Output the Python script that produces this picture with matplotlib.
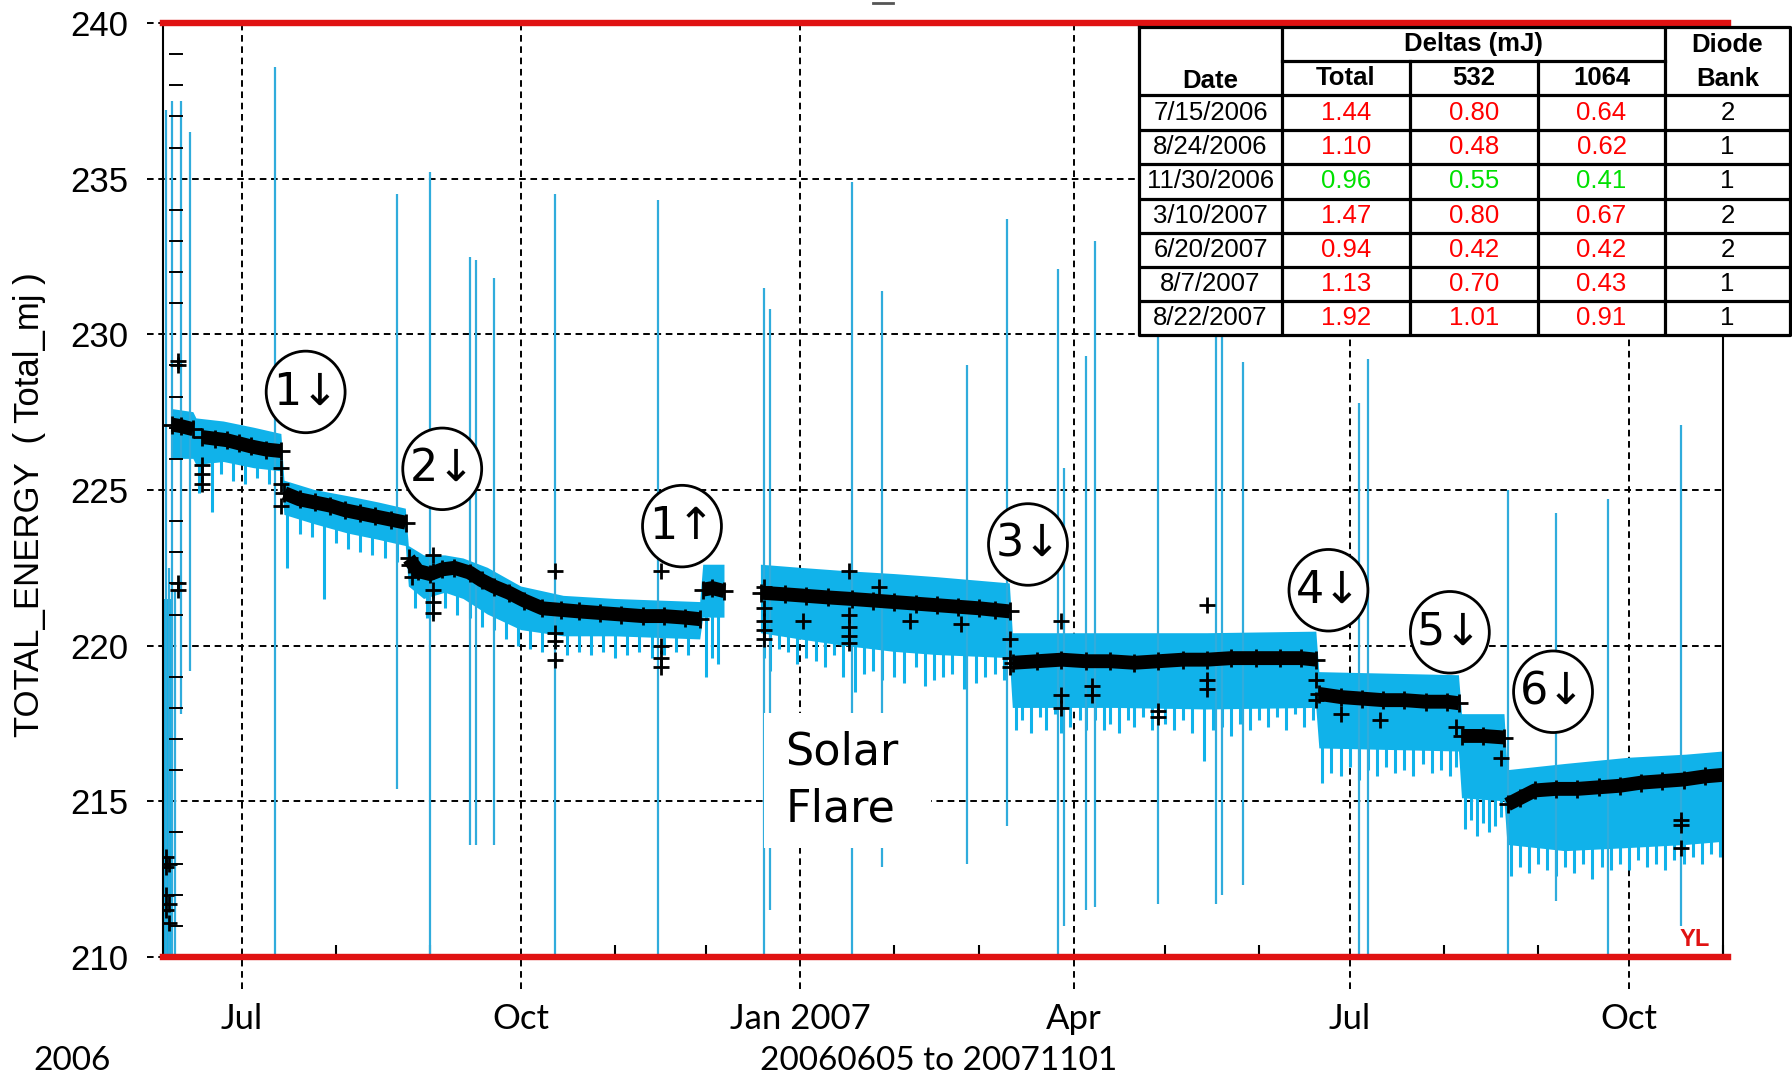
import numpy as np
import pandas as pd
import matplotlib
matplotlib.use("Agg")
import matplotlib.pyplot as plt
import matplotlib.dates as mdates
from matplotlib.patches import Ellipse, Rectangle
from matplotlib.lines import Line2D
from matplotlib.ticker import FuncFormatter

# ---------------------------------------------------------------- data
# Daily mean of TOTAL_ENERGY (black trace); None breaks the trace
trend_dates = [
    "2006-06-08", "2006-06-11", "2006-06-15", "2006-06-15",
    "2006-06-18", "2006-06-22", "2006-06-26", "2006-06-30", "2006-07-04", "2006-07-09", "2006-07-14", "2006-07-14",
    "2006-07-15", "2006-07-20", "2006-07-25", "2006-07-30", "2006-08-04", "2006-08-09", "2006-08-14",
    "2006-08-19", "2006-08-24", "2006-08-24",
    "2006-08-25", "2006-08-28", "2006-09-01", "2006-09-05", "2006-09-09", "2006-09-14", "2006-09-18",
    "2006-09-22", "2006-09-27", "2006-10-02", "2006-10-08", "2006-10-14", "2006-10-20", "2006-10-27",
    "2006-11-03", "2006-11-10", "2006-11-17", "2006-11-24", "2006-11-29", "2006-11-29",
    "2006-11-30", "2006-12-03", "2006-12-07", "2006-12-07",
    "2006-12-19", "2006-12-27", "2007-01-03", "2007-01-10", "2007-01-18", "2007-01-25", "2007-02-01",
    "2007-02-08", "2007-02-15", "2007-02-22", "2007-03-01", "2007-03-06", "2007-03-11", "2007-03-11",
    "2007-03-12", "2007-03-20", "2007-03-28", "2007-04-05", "2007-04-13", "2007-04-21", "2007-04-29",
    "2007-05-07", "2007-05-15", "2007-05-23", "2007-05-31", "2007-06-08", "2007-06-15", "2007-06-20", "2007-06-20",
    "2007-06-21", "2007-06-28", "2007-07-05", "2007-07-12", "2007-07-19", "2007-07-26", "2007-08-02",
    "2007-08-06", "2007-08-06",
    "2007-08-07", "2007-08-14", "2007-08-21", "2007-08-21",
    "2007-08-22", "2007-08-26", "2007-08-31", "2007-09-07", "2007-09-14", "2007-09-21", "2007-09-28",
    "2007-10-05", "2007-10-12", "2007-10-19", "2007-10-26", "2007-11-01"]
trend_mj = [
    227.1, 227.05, 226.95, None,
    226.7, 226.65, 226.6, 226.5, 226.4, 226.3, 226.25, None,
    224.9, 224.7, 224.6, 224.5, 224.35, 224.25, 224.15,
    224.05, 223.95, None,
    222.8, 222.4, 222.3, 222.45, 222.5, 222.35, 222.1,
    221.9, 221.7, 221.45, 221.2, 221.15, 221.1, 221.05,
    221.0, 220.95, 220.95, 220.9, 220.85, None,
    221.8, 221.85, 221.75, None,
    221.7, 221.65, 221.6, 221.55, 221.5, 221.45, 221.4,
    221.35, 221.3, 221.25, 221.2, 221.15, 221.1, None,
    219.45, 219.5, 219.55, 219.5, 219.5, 219.45, 219.5,
    219.55, 219.55, 219.6, 219.6, 219.6, 219.6, 219.55, None,
    218.45, 218.35, 218.3, 218.25, 218.25, 218.2, 218.2,
    218.15, None,
    217.1, 217.1, 217.05, None,
    214.9, 215.1, 215.35, 215.4, 215.4, 215.45, 215.5,
    215.6, 215.65, 215.7, 215.8, 215.85]

# Spread of the individual shots (cyan band)
band_dates = ["2006-06-05", "2006-06-08", "2006-06-08",
              "2006-06-08", "2006-06-15", "2006-06-16", "2006-06-25", "2006-07-05", "2006-07-14",
              "2006-07-15", "2006-07-25", "2006-08-05", "2006-08-15", "2006-08-24",
              "2006-08-25", "2006-08-30", "2006-09-06", "2006-09-12", "2006-09-20", "2006-10-01",
              "2006-10-15", "2006-11-01", "2006-11-29",
              "2006-11-30", "2006-12-07", "2006-12-07",
              "2006-12-19", "2007-01-01", "2007-01-15", "2007-02-01", "2007-02-15", "2007-03-11",
              "2007-03-12", "2007-04-15", "2007-05-15", "2007-06-20",
              "2007-06-21", "2007-08-06",
              "2007-08-07", "2007-08-21",
              "2007-08-22", "2007-09-10", "2007-10-01", "2007-10-20", "2007-11-01"]
band_hi = [221.5, 221.5, None,
           227.6, 227.5, 227.3, 227.2, 227.0, 226.8,
           225.3, 225.0, 224.8, 224.6, 224.4,
           223.2, 222.9, 222.9, 222.8, 222.5, 221.9,
           221.6, 221.5, 221.4,
           222.6, 222.6, None,
           222.6, 222.5, 222.4, 222.3, 222.2, 222.0,
           220.4, 220.4, 220.4, 220.45,
           219.15, 219.05,
           217.8, 217.8,
           216.0, 216.2, 216.4, 216.5, 216.6]
band_lo = [210.0, 210.0, None,
           226.0, 226.0, 225.8, 225.9, 225.7, 225.6,
           224.2, 223.9, 223.6, 223.4, 223.2,
           221.9, 221.5, 221.7, 221.5, 221.0, 220.5,
           220.3, 220.3, 220.2,
           220.9, 220.9, None,
           220.4, 220.2, 220.0, 219.8, 219.7, 219.6,
           218.0, 218.0, 217.95, 218.0,
           216.7, 216.6,
           215.1, 215.0,
           213.6, 213.4, 213.5, 213.6, 213.7]

# Single-shot excursions (long cyan spikes)
spike_dates = ["2006-06-06", "2006-06-07", "2006-06-08", "2006-06-09", "2006-06-11", "2006-06-14",
               "2006-07-12", "2006-08-21", "2006-09-01", "2006-09-14", "2006-09-16", "2006-09-22",
               "2006-10-12", "2006-11-15", "2006-12-20", "2006-12-22", "2007-01-18",
               "2007-01-28", "2007-02-25", "2007-03-10", "2007-03-27", "2007-03-29",
               "2007-04-05", "2007-04-08", "2007-04-29", "2007-05-18", "2007-05-20",
               "2007-05-27", "2007-07-04", "2007-07-07", "2007-08-22", "2007-09-07",
               "2007-09-24", "2007-10-18"]
spike_lo = [210.0, 210.0, 210.0, 210.0, 217.8, 219.2,
            210.0, 215.4, 210.0, 213.6, 213.6, 213.6,
            210.0, 210.0, 210.0, 211.5, 210.0,
            212.9, 213.0, 214.2, 210.0, 211.0,
            211.5, 211.6, 211.7, 211.7, 212.0,
            212.3, 210.0, 210.0, 210.0, 211.8,
            210.0, 211.0]
spike_hi = [237.2, 222.5, 237.5, 221.8, 237.5, 236.5,
            238.6, 234.5, 235.2, 232.5, 232.4, 231.8,
            234.5, 234.3, 231.5, 230.8, 234.9,
            231.4, 229.0, 233.7, 232.1, 225.7,
            229.3, 233.0, 231.5, 232.0, 230.2,
            229.1, 227.8, 229.2, 225.0, 224.25,
            224.7, 227.1]

# Short downward excursions hanging off the band
dip_dates = [
    "2006-06-17", "2006-06-21", "2006-06-24", "2006-06-28", "2006-07-02", "2006-07-06", "2006-07-10",
    "2006-07-16", "2006-07-20", "2006-07-24", "2006-07-28", "2006-08-01", "2006-08-05", "2006-08-09",
    "2006-08-13", "2006-08-17", "2006-08-21",
    "2006-08-27", "2006-08-31", "2006-09-02", "2006-09-06", "2006-09-10", "2006-09-14", "2006-09-18",
    "2006-09-22", "2006-09-26", "2006-09-30", "2006-10-04", "2006-10-08", "2006-10-12", "2006-10-16",
    "2006-10-20", "2006-10-24", "2006-10-28", "2006-11-01", "2006-11-05", "2006-11-09", "2006-11-13",
    "2006-11-17", "2006-11-21", "2006-11-25",
    "2006-12-01", "2006-12-03", "2006-12-05",
    "2006-12-20", "2006-12-22", "2006-12-25", "2006-12-28", "2006-12-31", "2007-01-03", "2007-01-06",
    "2007-01-09", "2007-01-12", "2007-01-15", "2007-01-19", "2007-01-22", "2007-01-25", "2007-01-28",
    "2007-02-01", "2007-02-04", "2007-02-08", "2007-02-11", "2007-02-14", "2007-02-17", "2007-02-20",
    "2007-02-24", "2007-02-28", "2007-03-03", "2007-03-06", "2007-03-09",
    "2007-03-13", "2007-03-15", "2007-03-18", "2007-03-21", "2007-03-23", "2007-03-26", "2007-03-28",
    "2007-03-31", "2007-04-03", "2007-04-05", "2007-04-08", "2007-04-11", "2007-04-13", "2007-04-16",
    "2007-04-19", "2007-04-21", "2007-04-24", "2007-04-27", "2007-05-01", "2007-05-04", "2007-05-07",
    "2007-05-10", "2007-05-14", "2007-05-17", "2007-05-20", "2007-05-23", "2007-05-26", "2007-05-29",
    "2007-06-01", "2007-06-04", "2007-06-07", "2007-06-10", "2007-06-13", "2007-06-16", "2007-06-19",
    "2007-06-22", "2007-06-25", "2007-06-28", "2007-07-01", "2007-07-04", "2007-07-07", "2007-07-10",
    "2007-07-13", "2007-07-16", "2007-07-19", "2007-07-22", "2007-07-25", "2007-07-28", "2007-07-31",
    "2007-08-03", "2007-08-05",
    "2007-08-08", "2007-08-10", "2007-08-12", "2007-08-14", "2007-08-16", "2007-08-18", "2007-08-20",
    "2007-08-23", "2007-08-26", "2007-08-29", "2007-09-01", "2007-09-04", "2007-09-07", "2007-09-10",
    "2007-09-13", "2007-09-16", "2007-09-19", "2007-09-22", "2007-09-25", "2007-09-28", "2007-10-01",
    "2007-10-04", "2007-10-07", "2007-10-10", "2007-10-13", "2007-10-16", "2007-10-19", "2007-10-22",
    "2007-10-25", "2007-10-28", "2007-10-31"]
dip_lo = [
    224.9, 224.3, 225.5, 225.3, 225.2, 225.4, 225.2,
    222.5, 223.6, 223.5, 221.5, 223.3, 223.1, 223.0,
    222.9, 222.8, 222.7,
    221.2, 220.9, 220.9, 221.2, 221.0, 220.9, 220.6,
    220.5, 220.2, 220.0, 219.9, 219.8, 219.9, 219.7,
    219.8, 219.7, 219.8, 219.6, 219.7, 219.8, 219.6,
    219.7, 219.8, 219.7,
    219.0, 219.6, 219.4,
    219.6, 219.2, 219.9, 219.8, 219.4, 219.6, 219.5,
    219.3, 219.7, 219.0, 218.5, 219.1, 219.2, 218.9,
    219.0, 218.8, 219.3, 218.7, 218.9, 219.0, 219.1,
    218.6, 218.8, 219.0, 219.1, 218.9,
    217.3, 217.6, 217.2, 217.7, 217.3, 217.8, 217.2,
    217.4, 217.6, 217.3, 217.6, 217.3, 217.5, 217.2,
    217.6, 217.4, 217.7, 217.3, 217.5, 217.3, 217.6,
    217.2, 216.3, 217.3, 217.4, 217.1, 217.5, 217.3,
    217.6, 217.4, 217.7, 217.3, 217.8, 217.4, 217.6,
    215.6, 215.9, 215.8, 216.1, 215.7, 216.0, 215.8,
    216.1, 215.9, 216.0, 215.8, 216.2, 215.9, 216.0,
    215.8, 216.1,
    214.1, 214.4, 213.9, 214.3, 214.0, 214.2, 214.5,
    212.6, 212.9, 212.7, 213.0, 212.8, 212.6, 212.9,
    212.7, 213.0, 212.5, 212.9, 212.8, 213.0, 212.8,
    213.1, 212.9, 213.0, 212.8, 213.1, 213.0, 213.2,
    213.0, 213.3, 213.2]

# Daily means away from the trend
outlier_dates = ["2006-06-06", "2006-06-06", "2006-06-07", "2006-06-06", "2006-06-07", "2006-06-06", "2006-06-07",
                 "2006-06-10", "2006-06-10", "2006-06-10", "2006-06-10",
                 "2006-06-18", "2006-06-18", "2006-06-18",
                 "2006-07-14", "2006-07-14", "2006-07-14",
                 "2006-08-25", "2006-08-26",
                 "2006-09-02", "2006-09-02", "2006-09-02", "2006-09-02", "2006-09-02",
                 "2006-10-12", "2006-10-12", "2006-10-12", "2006-10-12",
                 "2006-11-16", "2006-11-16", "2006-11-16", "2006-11-16",
                 "2006-12-20", "2006-12-20", "2006-12-20", "2006-12-20", "2006-12-20",
                 "2007-01-02",
                 "2007-01-17", "2007-01-17", "2007-01-17", "2007-01-17", "2007-01-17",
                 "2007-01-27", "2007-02-06", "2007-02-23",
                 "2007-03-11", "2007-03-11", "2007-03-11",
                 "2007-03-28", "2007-03-28", "2007-03-28",
                 "2007-04-07", "2007-04-07", "2007-04-29", "2007-04-29",
                 "2007-05-15", "2007-05-15", "2007-05-15",
                 "2007-06-20", "2007-06-20", "2007-06-28", "2007-07-11",
                 "2007-08-05", "2007-08-20",
                 "2007-10-18", "2007-10-18", "2007-10-18"]
outlier_mj = [213.2, 212.9, 213.0, 212.0, 211.7, 211.5, 211.1,
              229.15, 229.0, 222.0, 221.8,
              225.8, 225.5, 225.2,
              225.7, 225.2, 224.5,
              222.6, 222.2,
              222.9, 222.4, 221.8, 221.4, 221.05,
              222.4, 220.4, 220.15, 219.55,
              222.4, 220.0, 219.6, 219.3,
              221.9, 221.2, 220.8, 220.5, 220.2,
              220.8,
              222.4, 221.0, 220.6, 220.3, 220.1,
              221.9, 220.8, 220.7,
              220.2, 219.6, 219.3,
              220.8, 218.4, 218.0,
              218.7, 218.4, 217.9, 217.7,
              221.3, 218.9, 218.6,
              218.9, 218.25, 217.8, 217.6,
              217.4, 216.4,
              214.4, 214.25, 213.5]

# Diode events marked on the trace
event_labels = ["1\u2193", "2\u2193", "1\u2191", "3\u2193", "4\u2193", "5\u2193", "6\u2193"]

# Event table
table_dates = ["7/15/2006", "8/24/2006", "11/30/2006", "3/10/2007", "6/20/2007", "8/7/2007", "8/22/2007"]
delta_total = [1.44, 1.10, 0.96, 1.47, 0.94, 1.13, 1.92]
delta_532 = [0.80, 0.48, 0.55, 0.80, 0.42, 0.70, 1.01]
delta_1064 = [0.64, 0.62, 0.41, 0.67, 0.42, 0.43, 0.91]
diode_bank = [2, 1, 1, 2, 2, 1, 1]
energy_rose = [False, False, True, False, False, False, False]

x_tick_months = [1, 4, 7, 10]
y_ticks = [210, 215, 220, 225, 230, 235, 240]

# ---------------------------------------------------------------- layout
W, H = 1792, 1076
BAND = "#10B2EA"
SPIKE = "#30ACDC"
RED = "#E01212"
SANS = ["Liberation Sans", "DejaVu Sans"]
GOTHIC = ["Lato", "DejaVu Sans"]


def fx(px):
    return px / W


def fy(py):
    return 1 - py / H


def to_num(seq):
    return mdates.date2num(pd.to_datetime(seq))


def to_float(seq):
    return np.array([np.nan if v is None else v for v in seq], dtype=float)


fig = plt.figure(figsize=(W / 100, H / 100), dpi=100)
fig.patch.set_facecolor("white")
ax = fig.add_axes([fx(163), fy(957), (1723 - 163) / W, (957 - 23) / H])
ax.set_xlim(pd.Timestamp("2006-06-05"), pd.Timestamp("2007-11-01"))
ax.set_ylim(210, 240)
ax.set_yticks(y_ticks)
ax.xaxis.set_major_locator(mdates.MonthLocator(bymonth=x_tick_months))
ax.xaxis.set_minor_locator(mdates.MonthLocator())

# shot spread
bx = to_num(band_dates)
blo = to_float(band_lo)
bhi = to_float(band_hi)
ax.fill_between(bx, np.ma.masked_invalid(blo), np.ma.masked_invalid(bhi),
                color=BAND, lw=0, zorder=2)
ok = ~np.isnan(blo)
dx = to_num(dip_dates)
ax.vlines(dx, dip_lo, np.interp(dx, bx[ok], blo[ok]) + 0.2, color=BAND, lw=2.2, zorder=2)
ax.vlines(to_num(spike_dates), spike_lo, spike_hi, color=SPIKE, lw=1.6, zorder=2)

# daily means
tx = to_num(trend_dates)
ty = to_float(trend_mj)
ax.plot(tx, ty, color="black", lw=10, solid_capstyle="butt", zorder=4)
ax.plot(tx, ty, ls="none", marker="+", ms=13, mew=2, color="black", zorder=4)
ax.plot(to_num(outlier_dates), outlier_mj, ls="none", marker="+", ms=12, mew=2,
        color="black", zorder=4)

# grid, drawn as dashed lines that run past the frame like tick marks
dash = (0, (3.4, 2.4))
for v in y_ticks:
    ax.plot([-16 / 1560, 1], [v, v], transform=ax.get_yaxis_transform(), color="black",
            lw=1.4, ls=dash, clip_on=False, zorder=1)
for v in range(211, 240):
    if v % 5:
        ax.plot([7 / 1560, 19 / 1560], [v, v], transform=ax.get_yaxis_transform(),
                color="black", lw=1.4, clip_on=False, zorder=3)
xlo, xhi = ax.get_xlim()
for d in ax.get_xticks():
    if xlo <= d <= xhi:
        ax.plot([d, d], [-32 / 934, 1], transform=ax.get_xaxis_transform(), color="black",
                lw=1.4, ls=dash, clip_on=False, zorder=1)

# limit lines
for v in (210, 240):
    ax.axhline(v, xmin=0, xmax=1.003, color=RED, lw=4.6, clip_on=False, zorder=6)

# axes frame and ticks
for side in ("top", "bottom"):
    ax.spines[side].set_visible(False)
for side in ("left", "right"):
    ax.spines[side].set_linewidth(1.5)
    ax.spines[side].set_color("black")
ax.tick_params(axis="y", which="major", length=0, pad=25, labelsize=25)
for lab in ax.get_yticklabels():
    lab.set_family(SANS)
ax.xaxis.set_major_formatter(FuncFormatter(
    lambda v, p: mdates.num2date(v).strftime("%b %Y" if mdates.num2date(v).month == 1 else "%b")))
ax.tick_params(axis="x", which="major", length=0, pad=33, labelsize=25)
ax.tick_params(axis="x", which="minor", direction="in", length=9, width=1.5, color="black")
for lab in ax.get_xticklabels():
    lab.set_family(GOTHIC)

fig.text(fx(30), fy(505), "TOTAL_ENERGY  ( Total_mj )", rotation=90, ha="center",
         va="center", fontsize=25, family=SANS)
fig.text(fx(33), fy(1061), "2006", ha="left", va="center", fontsize=24, family=GOTHIC)
fig.text(fx(939), fy(1061), "20060605 to 20071101", ha="center", va="center", fontsize=24,
         family=GOTHIC)
fig.add_artist(Line2D([fx(873), fx(893)], [fy(3), fy(3)], color="#555555", lw=2))
ax.text(0.982, 0.019, "YL", transform=ax.transAxes, ha="center", va="center",
        color=RED, fontsize=17, fontweight="bold", family=SANS, zorder=7)

# event markers
label_dates = ["2006-07-22", "2006-09-05", "2006-11-23", "2007-03-17", "2007-06-24",
               "2007-08-03", "2007-09-06"]
label_mj = [228.15, 225.68, 223.84, 223.25, 221.78, 220.43, 218.52]
for lab, d, v in zip(event_labels, to_num(label_dates), label_mj):
    ax.add_patch(Ellipse((d, v), width=26, height=2.62, facecolor="white",
                         edgecolor="black", lw=2, zorder=8))
    ax.text(d, v, lab, ha="center", va="center", fontsize=32, family=["DejaVu Sans"],
            zorder=9)

# solar flare note
x0, x1 = to_num(["2006-12-20", "2007-02-13"])
ax.add_patch(Rectangle((x0, 213.5), x1 - x0, 4.33, facecolor="white", edgecolor="none",
                       zorder=8))
xt = to_num(["2006-12-27"])[0]
ax.text(xt, 216.6, "Solar", ha="left", va="center", fontsize=32, family=["DejaVu Sans"],
        zorder=9)
ax.text(xt, 214.75, "Flare", ha="left", va="center", fontsize=32, family=["DejaVu Sans"],
        zorder=9)

# ---------------------------------------------------------------- table
tx0, tx1, ty0, ty1 = 1139, 1790, 27, 335
tax = fig.add_axes([fx(tx0), fy(ty1), (tx1 - tx0) / W, (ty1 - ty0) / H])
tax.set_zorder(10)
tax.set_xlim(0, tx1 - tx0)
tax.set_ylim(ty1 - ty0, 0)
tax.axis("off")
tax.add_patch(Rectangle((0, 0), tx1 - tx0, ty1 - ty0, facecolor="white", edgecolor="none"))
cols = [0, 143, 271, 399, 526, 651]
rows = [0, 34, 68, 103, 137, 172, 206, 240, 274, 308]
lw = 2.3
tax.plot([0, 651, 651, 0, 0], [0, 0, 308, 308, 0], color="black", lw=lw, clip_on=False)
tax.plot([143, 526], [34, 34], color="black", lw=lw)
for r in rows[2:-1]:
    tax.plot([0, 651], [r, r], color="black", lw=lw)
for c in (143, 526):
    tax.plot([c, c], [0, 308], color="black", lw=lw)
for c in (271, 399):
    tax.plot([c, c], [34, 308], color="black", lw=lw)


def mid(a, i):
    return (a[i] + a[i + 1]) / 2


hd = dict(ha="center", va="center", fontsize=18.5, fontweight="bold", family=SANS)
tax.text(mid(cols, 0), 54, "Date", **hd)
tax.text((cols[1] + cols[4]) / 2, 17, "Deltas (mJ)", **hd)
tax.text(mid(cols, 1), 51, "Total", **hd)
tax.text(mid(cols, 2), 51, "532", **hd)
tax.text(mid(cols, 3), 51, "1064", **hd)
tax.text(mid(cols, 4), 18, "Diode", **hd)
tax.text(mid(cols, 4), 52, "Bank", **hd)
cell = dict(ha="center", va="center", fontsize=18.5, family=SANS)
for i in range(len(table_dates)):
    yc = mid(rows, i + 2)
    col = "#00E000" if energy_rose[i] else "#FF0000"
    tax.text(mid(cols, 0), yc, table_dates[i], color="black", **cell)
    tax.text(mid(cols, 1), yc, f"{delta_total[i]:.2f}", color=col, **cell)
    tax.text(mid(cols, 2), yc, f"{delta_532[i]:.2f}", color=col, **cell)
    tax.text(mid(cols, 3), yc, f"{delta_1064[i]:.2f}", color=col, **cell)
    tax.text(mid(cols, 4), yc, str(diode_bank[i]), color="black", **cell)

fig.savefig("out.png", dpi=100)
